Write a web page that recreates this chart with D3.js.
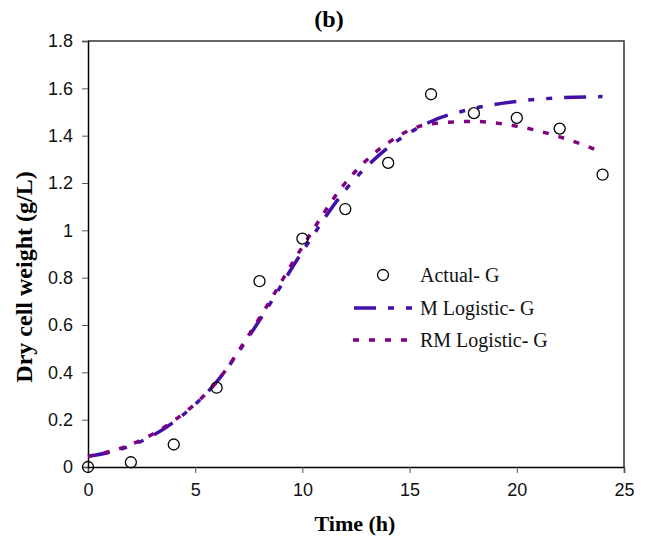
<!DOCTYPE html>
<html>
<head>
<meta charset="utf-8">
<script src="https://cdn.jsdelivr.net/npm/d3@7"></script>
<style>
  body { margin: 0; background: #fff; }
</style>
</head>
<body>
<svg id="chart"></svg>
<script>
const width = 648;
const height = 536;

// data
const actualTime = [0, 2, 4, 6, 8, 10, 12, 14, 16, 18, 20, 22, 24];
const actualG = [0, 0.02, 0.095, 0.335, 0.785, 0.965, 1.09, 1.285, 1.575, 1.495, 1.475, 1.43, 1.235];

const modelTime = [0, 2, 4, 6, 8, 10, 12, 14, 16, 18, 20, 22, 24];
const mLogistic = [0.045, 0.09, 0.19, 0.36, 0.62, 0.91, 1.17, 1.35, 1.46, 1.515, 1.545, 1.56, 1.565];
const rmLogistic = [0.045, 0.095, 0.195, 0.36, 0.63, 0.93, 1.2, 1.37, 1.45, 1.46, 1.44, 1.395, 1.33];

const xTicks = [0, 5, 10, 15, 20, 25];
const yTicks = [0, 0.2, 0.4, 0.6, 0.8, 1, 1.2, 1.4, 1.6, 1.8];

const margin = {top: 41, right: 24, bottom: 69, left: 88};
const serif = "'Liberation Serif', 'Times New Roman', serif";
const sans = "'Liberation Sans', Arial, sans-serif";
const mColor = "#4010a8";
const rmColor = "#800080";

const x = d3.scaleLinear([0, 25], [margin.left, width - margin.right]);
const y = d3.scaleLinear([0, 1.8], [height - margin.bottom, margin.top]);

const svg = d3.select("#chart")
    .attr("width", width)
    .attr("height", height)
    .attr("viewBox", [0, 0, width, height]);

// frame (top and right)
svg.append("path")
    .attr("fill", "none")
    .attr("stroke", "#333")
    .attr("stroke-width", 1.5)
    .attr("d", `M${x(0)},${y(1.8)}H${x(25)}V${y(0)}`);

svg.append("g")
    .attr("transform", `translate(0,${y(0)})`)
    .call(d3.axisBottom(x).tickValues(xTicks).tickSize(6).tickPadding(10).tickFormat(d3.format("d")))
    .call(g => g.select(".domain").attr("stroke", "#000").attr("stroke-width", 1.5))
    .call(g => g.selectAll(".tick line").attr("stroke", "#555"))
    .call(g => g.selectAll("text").attr("font-family", sans).attr("font-size", 18).attr("fill", "#111"));

svg.append("g")
    .attr("transform", `translate(${x(0)},0)`)
    .call(d3.axisLeft(y).tickValues(yTicks).tickSize(6).tickPadding(9)
        .tickFormat(d => d === 0 ? "0" : (d === 1 ? "1" : d3.format(".1f")(d))))
    .call(g => g.select(".domain").attr("stroke", "#000").attr("stroke-width", 1.5))
    .call(g => g.selectAll(".tick line").attr("stroke", "#555"))
    .call(g => g.selectAll("text").attr("font-family", sans).attr("font-size", 18).attr("fill", "#111"));

const line = d3.line()
    .curve(d3.curveMonotoneX)
    .x((d, i) => x(modelTime[i]))
    .y(d => y(d));

svg.append("path")
    .attr("fill", "none")
    .attr("stroke", mColor)
    .attr("stroke-width", 3.5)
    .attr("stroke-dasharray", "22,12,6,12,6,12")
    .attr("d", line(mLogistic));

svg.append("path")
    .attr("fill", "none")
    .attr("stroke", rmColor)
    .attr("stroke-width", 3.5)
    .attr("stroke-dasharray", "6,10")
    .attr("d", line(rmLogistic));

svg.append("g")
    .selectAll("circle")
    .data(actualG)
    .join("circle")
    .attr("cx", (d, i) => x(actualTime[i]))
    .attr("cy", d => y(d))
    .attr("r", 5.5)
    .attr("fill", "none")
    .attr("stroke", "#000")
    .attr("stroke-width", 1.3);

// legend
const legend = svg.append("g").attr("font-family", serif).attr("font-size", 20).attr("fill", "#111");
legend.append("circle")
    .attr("cx", 383).attr("cy", 275).attr("r", 5.5)
    .attr("fill", "none").attr("stroke", "#000").attr("stroke-width", 1.3);
legend.append("text").attr("x", 420).attr("y", 282).text("Actual- G");
legend.append("line")
    .attr("x1", 354).attr("x2", 414).attr("y1", 308).attr("y2", 308)
    .attr("stroke", mColor).attr("stroke-width", 3.5).attr("stroke-dasharray", "22,12,6,12,6,12");
legend.append("text").attr("x", 420).attr("y", 315).text("M Logistic- G");
legend.append("line")
    .attr("x1", 353).attr("x2", 414).attr("y1", 340).attr("y2", 340)
    .attr("stroke", rmColor).attr("stroke-width", 3.5).attr("stroke-dasharray", "6,10");
legend.append("text").attr("x", 420).attr("y", 347).text("RM Logistic- G");

// titles
svg.append("text")
    .attr("x", 329).attr("y", 27)
    .attr("text-anchor", "middle")
    .attr("font-family", serif).attr("font-weight", "bold").attr("font-size", 24)
    .text("(b)");

svg.append("text")
    .attr("x", 355).attr("y", 531)
    .attr("text-anchor", "middle")
    .attr("font-family", serif).attr("font-weight", "bold").attr("font-size", 22)
    .text("Time (h)");

svg.append("text")
    .attr("transform", "translate(32,277) rotate(-90)")
    .attr("text-anchor", "middle")
    .attr("font-family", serif).attr("font-weight", "bold").attr("font-size", 24)
    .text("Dry cell weight (g/L)");
</script>
</body>
</html>
